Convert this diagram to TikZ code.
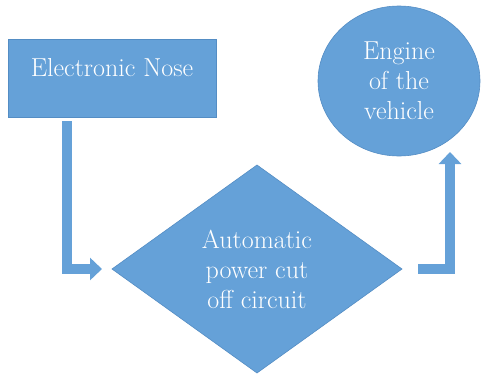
\documentclass[tikz,border=0pt]{standalone}
\usepackage{tikz}
\usetikzlibrary{shapes.geometric}
\usetikzlibrary{arrows.meta}
\definecolor{blockblue}{RGB}{101,161,216}
\definecolor{blockedge}{RGB}{84,141,196}
\newcommand{\blocktext}{\fontsize{26}{30}\selectfont}
\tikzstyle{block}=[fill=blockblue, draw=blockedge, line width=0.6pt, text=white, font=\blocktext,
                   align=center, inner sep=0, outer sep=0]
% Text sits in the upper part of the box.
\tikzstyle{box}=[block, rectangle, minimum width=208pt, minimum height=78pt, text height=18pt, text depth=22pt]
\tikzstyle{decision}=[block, diamond, minimum width=290pt, minimum height=208pt, aspect=1.4]
\tikzstyle{unit}=[block, ellipse, minimum width=162pt, minimum height=150pt]
\tikzstyle{flow}=[draw=blockblue, line width=10pt, -{Triangle[width=22pt, length=12pt]}]

\begin{document}
\begin{tikzpicture}[x=1pt, y=-1pt]
    \useasboundingbox (0,0) rectangle (489,375);
    \node[box] (nose) at (112,78) {Electronic Nose};
    \node[decision] (cutoff) at (257,269) {Automatic\\power cut\\off circuit};
    \node[unit] (engine) at (399,81) {Engine\\of the\\vehicle};
    \coordinate (enginein) at ([xshift=51pt, yshift=4pt]engine.south);
    \draw[flow] ([xshift=-45pt, yshift=-4pt]nose.south) |- ([xshift=-10pt]cutoff.west);
    \draw[flow] ([xshift=16pt]cutoff.east) -| (enginein);
\end{tikzpicture}
\end{document}
